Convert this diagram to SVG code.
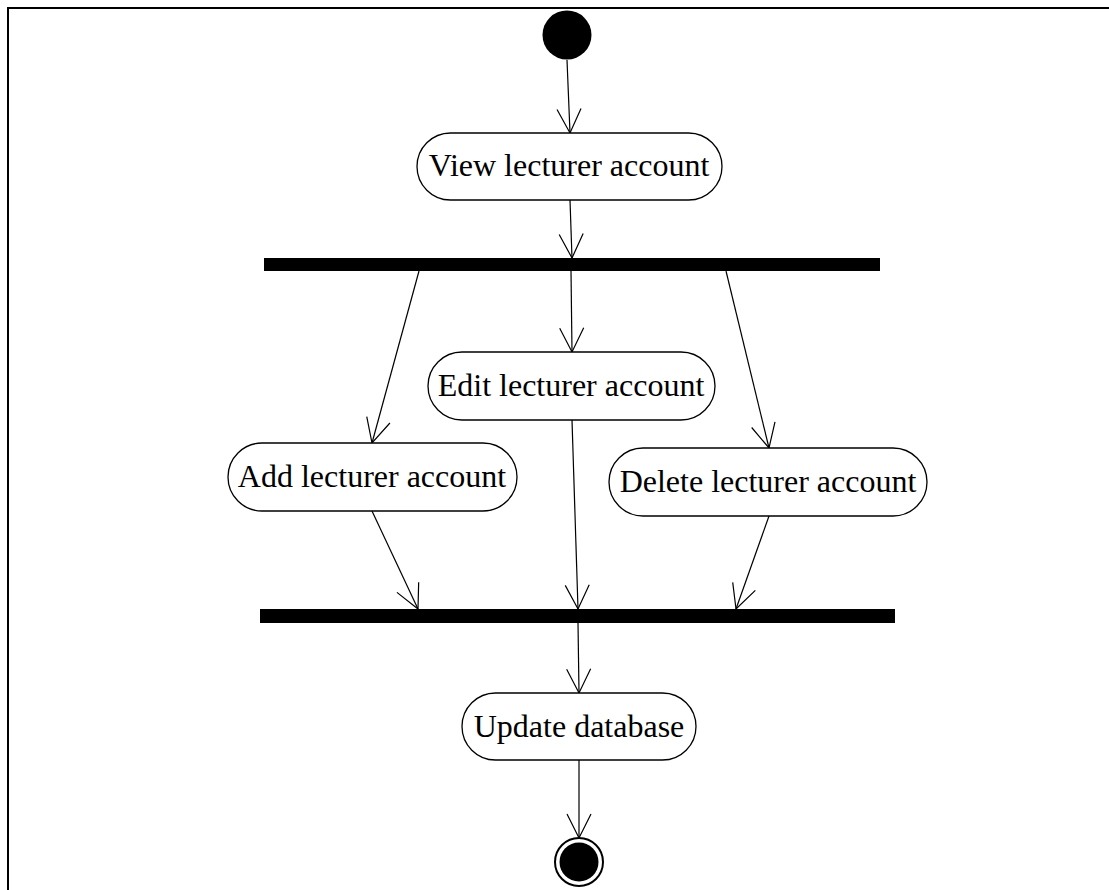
<svg xmlns="http://www.w3.org/2000/svg" width="1109" height="890" viewBox="0 0 1109 890">
  <style>
    .frame { fill: #fff; stroke: #000; stroke-width: 2; }
    .action rect { fill: #fff; stroke: #000; stroke-width: 1.3; }
    .action text { font-family: "Liberation Serif", "Times New Roman", serif; font-size: 32px; text-anchor: middle; fill: #000; }
    .bar { fill: #000; }
    .flow { fill: none; stroke: #000; stroke-width: 1.2; marker-end: url(#open-arrow); }
  </style>
  <defs>
    <marker id="open-arrow" markerUnits="userSpaceOnUse" markerWidth="40" markerHeight="40" viewBox="-30 -20 40 40" refX="0" refY="0" orient="auto" overflow="visible">
      <path d="M -24 -12 L 0 0 L -24 12" fill="none" stroke="#000" stroke-width="1.2"/>
    </marker>
  </defs>

  <!-- diagram frame -->
  <rect class="frame" x="8" y="8" width="1200" height="1000"/>

  <!-- control flows -->
  <g id="connectors">
    <line class="flow" x1="567" y1="60" x2="570" y2="133"/>
    <line class="flow" x1="570" y1="200" x2="572" y2="258"/>
    <line class="flow" x1="419" y1="271" x2="372" y2="443"/>
    <line class="flow" x1="571" y1="271" x2="572" y2="352"/>
    <line class="flow" x1="726" y1="271" x2="769" y2="448"/>
    <line class="flow" x1="372" y1="511" x2="418" y2="609"/>
    <line class="flow" x1="572" y1="420" x2="578" y2="609"/>
    <line class="flow" x1="769" y1="516" x2="736" y2="609"/>
    <line class="flow" x1="578" y1="623" x2="579" y2="693"/>
    <line class="flow" x1="579" y1="760" x2="579" y2="838"/>
  </g>

  <!-- initial node -->
  <g id="start">
    <circle cx="567" cy="35" r="24.5" fill="#000"/>
  </g>

  <g id="view-account" class="action">
    <rect x="417" y="133" width="305" height="67" rx="33.5"/>
    <text x="569" y="176">View lecturer account</text>
  </g>

  <!-- fork -->
  <g id="fork">
    <rect class="bar" x="264" y="258" width="616" height="13"/>
  </g>

  <g id="add-account" class="action">
    <rect x="228" y="443" width="289" height="68" rx="34"/>
    <text x="372" y="487">Add lecturer account</text>
  </g>

  <g id="edit-account" class="action">
    <rect x="428" y="352" width="287" height="68" rx="34"/>
    <text x="571" y="396">Edit lecturer account</text>
  </g>

  <g id="delete-account" class="action">
    <rect x="609" y="448" width="318" height="68" rx="34"/>
    <text x="768" y="492">Delete lecturer account</text>
  </g>

  <!-- join -->
  <g id="join">
    <rect class="bar" x="260" y="609" width="635" height="14"/>
  </g>

  <g id="update-database" class="action">
    <rect x="462" y="693" width="234" height="67" rx="33.5"/>
    <text x="579" y="737">Update database</text>
  </g>

  <!-- final node -->
  <g id="end">
    <circle cx="579" cy="862" r="24" fill="#fff" stroke="#000" stroke-width="2"/>
    <circle cx="579" cy="862" r="19.5" fill="#000"/>
  </g>
</svg>
